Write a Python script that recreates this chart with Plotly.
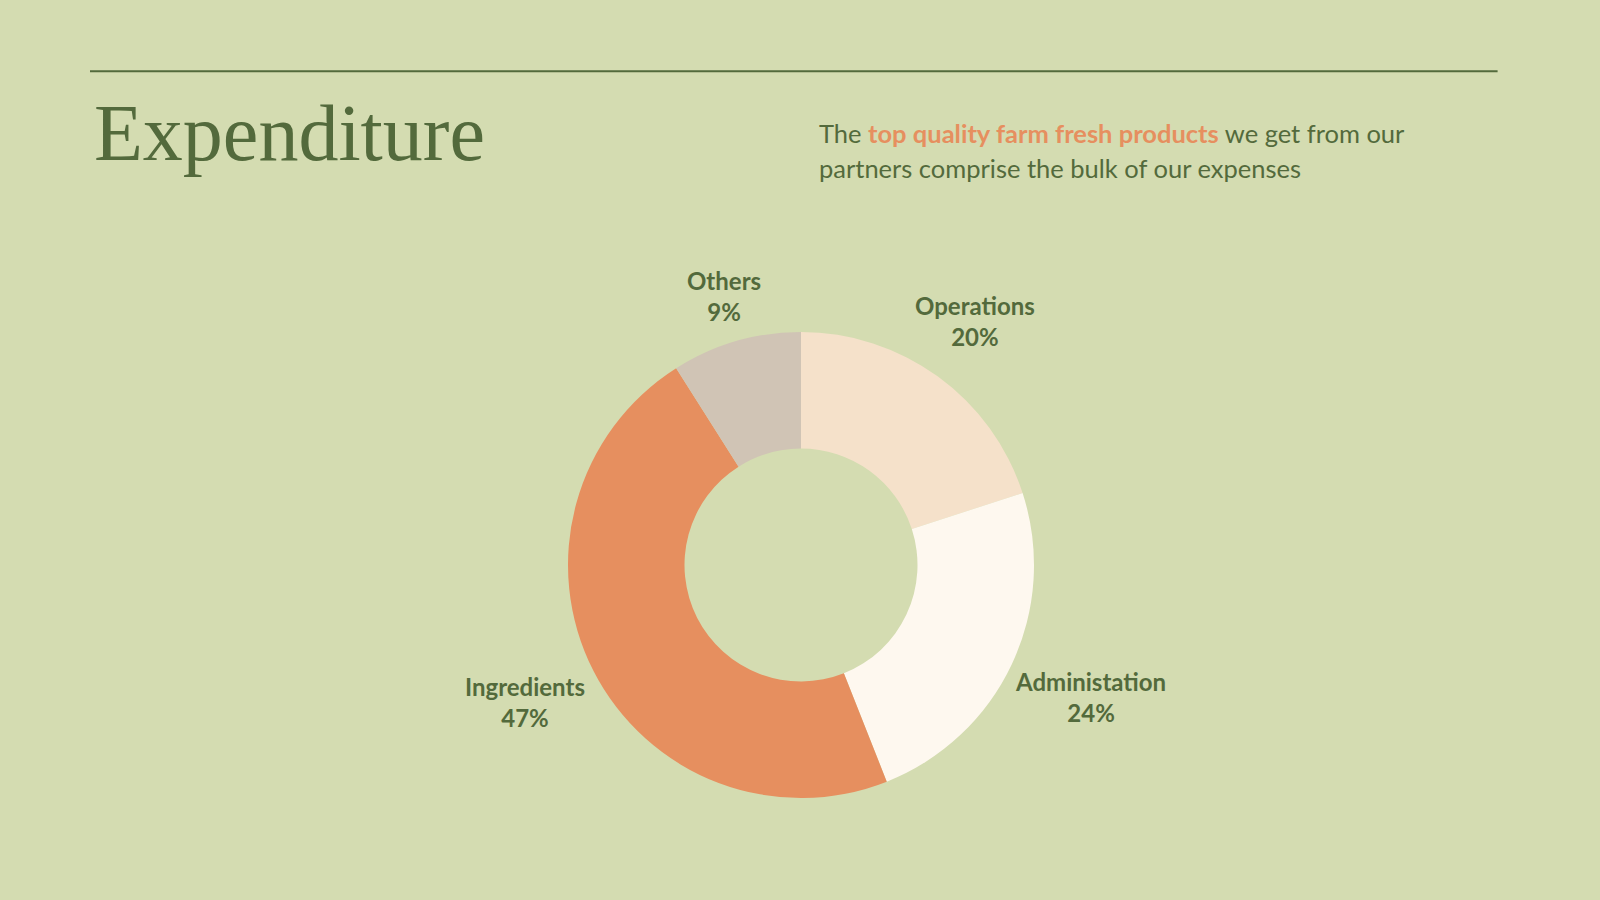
import math
import plotly.graph_objects as go

# expenditure split
categories = ["Operations", "Administation", "Ingredients", "Others"]
shares = [20, 24, 47, 9]
slice_colors = ["#f5e1ca", "#fef8ef", "#e68f5f", "#d0c4b5"]

BG = "#d4dcb1"
GREEN = "#536a3c"
ORANGE = "#e68f5f"

W, H = 1600, 900
# donut geometry (pixels)
CX, CY, R = 801, 565, 233
LABEL_GAP = 6
LABEL_SIZE = 24
CHAR_W = 11.8
LABEL_H = 56
LABEL_NUDGE = 4  # plotly centres two-line text a touch low

fig = go.Figure()
fig.add_trace(go.Pie(
    labels=categories, values=shares,
    hole=0.5, sort=False, direction="clockwise", rotation=0,
    marker=dict(colors=slice_colors, line=dict(width=0)),
    textinfo="none",
    domain=dict(x=[(CX - R) / W, (CX + R) / W],
                y=[1 - (CY + R) / H, 1 - (CY - R) / H]),
    showlegend=False, hoverinfo="label+percent",
))

# labels sit just outside each slice's mid-angle
total = sum(shares)
start = 0.0
for name, val in zip(categories, shares):
    mid = (start + val / 2) / total * 2 * math.pi
    start += val
    ux, uy = math.sin(mid), -math.cos(mid)
    pct = f"{round(val / total * 100)}%"
    w = max(len(name), len(pct)) * CHAR_W
    dist = R + LABEL_GAP + abs(ux) * w / 2 + abs(uy) * LABEL_H / 2
    px, py = CX + ux * dist, CY + uy * dist - LABEL_NUDGE
    fig.add_annotation(text=f"<b>{name}</b><br><b>{pct}</b>",
                       xref="paper", yref="paper", x=px / W, y=1 - py / H,
                       xanchor="center", yanchor="middle", showarrow=False,
                       font=dict(family="Lato", size=LABEL_SIZE, color=GREEN))

# thin rule above the heading
fig.add_shape(type="line", xref="paper", yref="paper",
              x0=0.05625, x1=0.936, y0=0.9207, y1=0.9207,
              line=dict(color=GREEN, width=2))

fig.add_annotation(text="Expenditure", xref="paper", yref="paper",
                   x=0.0575, y=0.852, xanchor="left", yanchor="middle",
                   showarrow=False,
                   font=dict(family="Liberation Serif", size=80, color=GREEN))

line1 = ("The <b><span style='color:%s'>top quality farm fresh products</span></b> "
         "we get from our") % ORANGE
line2 = "partners comprise the bulk of our expenses"
fig.add_annotation(text=line1, xref="paper", yref="paper",
                   x=0.5106, y=1 - 132.7 / H, xanchor="left", yanchor="middle",
                   align="left", showarrow=False,
                   font=dict(family="Lato", size=25.5, color=GREEN))
fig.add_annotation(text=line2, xref="paper", yref="paper",
                   x=0.5106, y=1 - 168.4 / H, xanchor="left", yanchor="middle",
                   align="left", showarrow=False,
                   font=dict(family="Lato", size=25.5, color=GREEN))

fig.update_layout(
    width=W, height=H,
    margin=dict(l=0, r=0, t=0, b=0),
    paper_bgcolor=BG, plot_bgcolor=BG,
)

fig.write_html("out.html", config={"displayModeBar": False},
               post_script="document.body.style.margin='0';")
